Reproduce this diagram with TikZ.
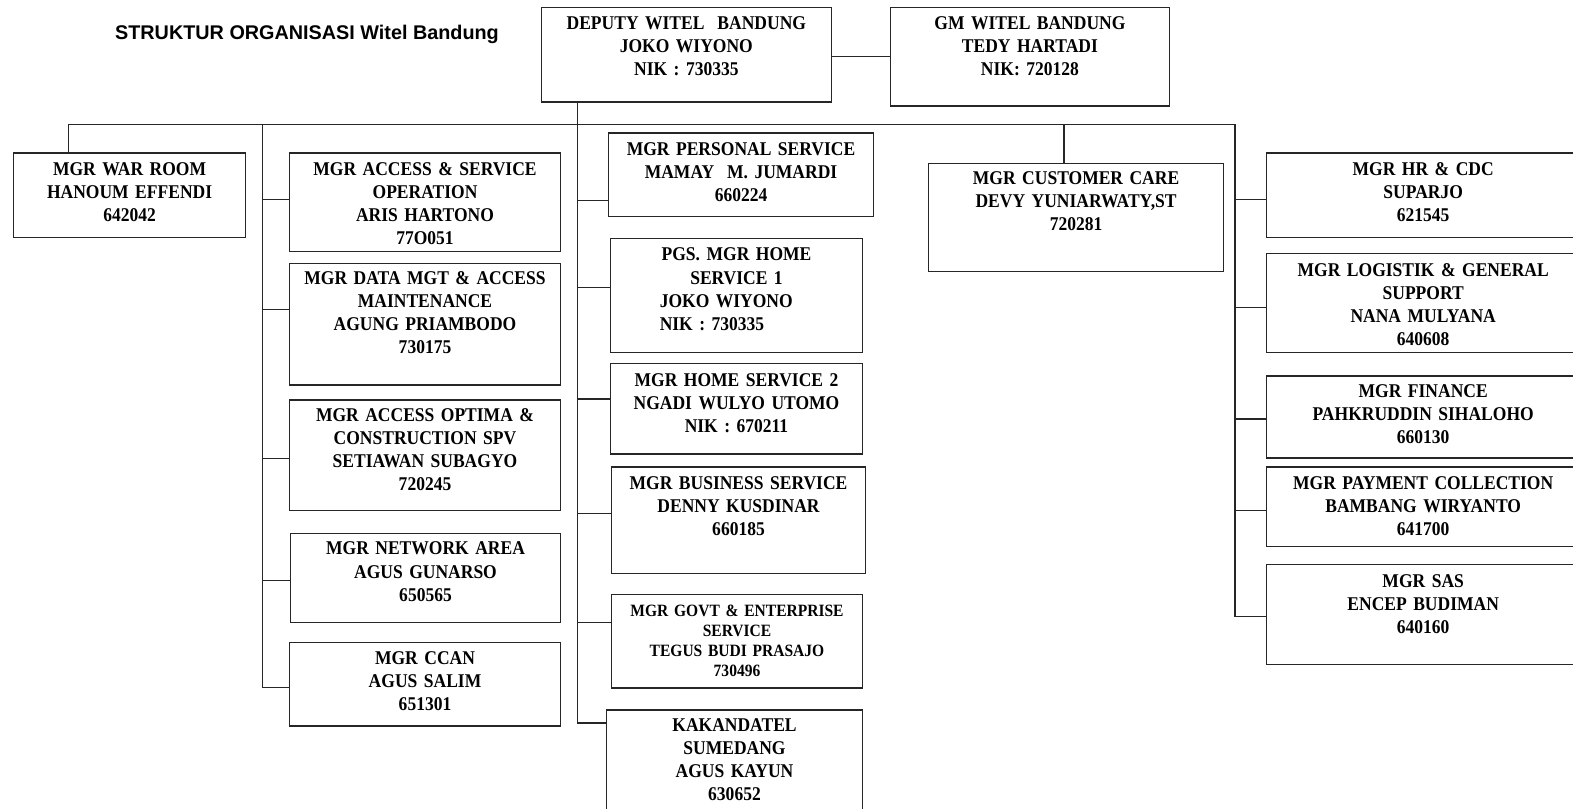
\documentclass[tikz,border=0pt]{standalone}
\usepackage{fontspec}
\setmainfont[FakeStretch=0.9]{Liberation Serif}
\newfontfamily\judulfont{Liberation Sans}
\newdimen\pxu
\pxu=0.75pt

\begin{document}
\begin{tikzpicture}[x=0.75pt,y=-0.75pt]
    % Batas gambar
    \useasboundingbox (0,0) rectangle (1568,806);
    \clip (0,0) rectangle (1568,806);

    % Gaya kotak jabatan dan garis
    \tikzset{
      jabatan/.style n args={3}{
        draw=black!85, line width=1pt, anchor=north west, inner sep=0pt,
        align=center, text width=#1\pxu, minimum width=#1\pxu,
        text height=#2\pxu, text depth=#3\pxu,
        font=\bfseries\fontsize{14.55}{17.25}\selectfont
      },
      garis/.style={draw=black!85, line width=0.9pt}
    }

    % Judul
    \node[anchor=base, inner sep=0pt, font=\judulfont\bfseries\fontsize{14.8}{17}\selectfont] (judul) at (306,39) {STRUKTUR ORGANISASI Witel Bandung};

    % Pimpinan
    \node[jabatan={289}{21.5}{72.5}] (deputi) at (539,7) {DEPUTY WITEL~ BANDUNG\\JOKO WIYONO\\NIK : 730335};
    \node[jabatan={278}{21.5}{76.5}] (gm) at (887,7) {GM WITEL BANDUNG\\TEDY HARTADI\\NIK: 720128};

    % Kolom kiri
    \node[jabatan={231}{22.5}{61.5}] (warroom) at (13,152) {MGR WAR ROOM\\HANOUM EFFENDI\\642042};
    \node[jabatan={270}{22.5}{75.5}] (aso) at (288,152) {MGR ACCESS \& SERVICE\\OPERATION\\ARIS HARTONO\\77O051};
    \node[jabatan={270}{20.5}{100.5}] (datamgt) at (288,262) {MGR DATA MGT \& ACCESS\\MAINTENANCE\\AGUNG PRIAMBODO\\730175};
    \node[jabatan={270}{21.5}{88.5}] (optima) at (288,398) {MGR ACCESS OPTIMA \&\\CONSTRUCTION SPV\\SETIAWAN SUBAGYO\\720245};
    \node[jabatan={269}{21.5}{67.5}] (network) at (289,531) {MGR NETWORK AREA\\AGUS GUNARSO\\650565};
    \node[jabatan={270}{21.5}{61.5}] (ccan) at (288,640) {MGR CCAN\\AGUS SALIM\\651301};

    % Kolom tengah
    \node[jabatan={264}{22.5}{60.5}] (personal) at (606,132) {MGR PERSONAL SERVICE\\MAMAY~ M. JUMARDI\\660224};
    \node[jabatan={251}{22.5}{91.5}] (home1) at (608,237) {PGS. MGR HOME\\SERVICE 1\\\makebox[153\pxu][l]{JOKO WIYONO}\\\makebox[153\pxu][l]{NIK : 730335}};
    \node[jabatan={251}{22.5}{67.5}] (home2) at (608,362) {MGR HOME SERVICE 2\\NGADI WULYO UTOMO\\NIK : 670211};
    \node[jabatan={253}{22.5}{83.5}] (bisnis) at (609,465) {MGR BUSINESS SERVICE\\DENNY KUSDINAR\\660185};
    \node[jabatan={250}{21.5}{71.5}, font=\bfseries\fontsize{12.9}{15}\selectfont] (govt) at (609,592) {MGR GOVT \& ENTERPRISE\\SERVICE\\TEGUS BUDI PRASAJO\\730496};
    \node[jabatan={255}{21.5}{78.5}] (sumedang) at (604,707) {KAKANDATEL\\SUMEDANG\\AGUS KAYUN\\630652};

    % Customer care
    \node[jabatan={294}{21.5}{86.5}] (cc) at (925,162) {MGR CUSTOMER CARE\\DEVY YUNIARWATY,ST\\720281};

    % Kolom kanan
    \node[jabatan={312}{22.5}{61.5}] (hr) at (1262,152) {MGR HR \& CDC\\SUPARJO\\621545};
    \node[jabatan={312}{22.5}{76.5}] (logistik) at (1262,252) {MGR LOGISTIK \& GENERAL\\SUPPORT\\NANA MULYANA\\640608};
    \node[jabatan={312}{21.5}{60.5}] (finance) at (1262,374) {MGR FINANCE\\PAHKRUDDIN SIHALOHO\\660130};
    \node[jabatan={312}{22.5}{56.5}] (payment) at (1262,465) {MGR PAYMENT COLLECTION\\BAMBANG WIRYANTO\\641700};
    \node[jabatan={312}{22.5}{77.5}] (sas) at (1262,562) {MGR SAS\\ENCEP BUDIMAN\\640160};

    % Titik cabang
    \coordinate (bus) at (1231,124);
    \coordinate (kiri) at (262,124);
    \coordinate (tengah) at ([xshift=37\pxu]deputi.south west);

    % Garis pimpinan dan bus
    \draw[garis] (gm.west -| deputi.east) -- (gm.west);
    \draw[garis] ([xshift=-60.5\pxu]warroom.north) |- (bus);
    \draw[garis] ([xshift=-12\pxu]cc.north) |- (bus);

    % Cabang kiri
    \draw[garis] ([yshift=3\pxu]aso.west) -| (kiri);
    \draw[garis] ([yshift=14.5\pxu]datamgt.west) -| (kiri);
    \draw[garis] ([yshift=-3\pxu]optima.west) -| (kiri);
    \draw[garis] ([yshift=-2.5\pxu]network.west) -| (kiri);
    \draw[garis] ([yshift=-3.5\pxu]ccan.west) -| (kiri);

    % Cabang tengah
    \draw[garis] ([yshift=-25.5\pxu]personal.west) -| (tengah);
    \draw[garis] ([yshift=8\pxu]home1.west) -| (tengah);
    \draw[garis] ([yshift=10\pxu]home2.west) -| (tengah);
    \draw[garis] ([yshift=7\pxu]bisnis.west) -| (tengah);
    \draw[garis] ([yshift=18.5\pxu]govt.west) -| (tengah);
    \draw[garis] ([yshift=37\pxu]sumedang.west) -| (tengah);

    % Cabang kanan
    \draw[garis] ([yshift=-4\pxu]hr.west) -| (bus);
    \draw[garis] ([yshift=-4.5\pxu]logistik.west) -| (bus);
    \draw[garis] ([yshift=-2\pxu]finance.west) -| (bus);
    \draw[garis] ([yshift=-3.5\pxu]payment.west) -| (bus);
    \draw[garis] ([yshift=-2\pxu]sas.west) -| (bus);
  \end{tikzpicture}
\end{document}
